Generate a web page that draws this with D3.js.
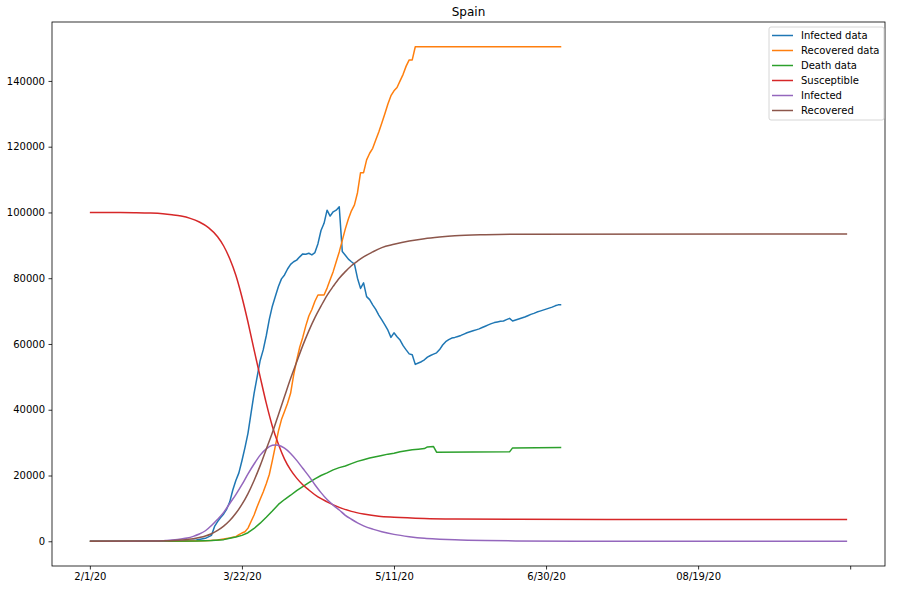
<!DOCTYPE html>
<html>
<head>
<meta charset="utf-8">
<script src="https://cdn.jsdelivr.net/npm/d3@7"></script>
<style>
body { margin: 0; background: #fff; }
text { font-family: "DejaVu Sans", sans-serif; }
</style>
</head>
<body>
<div id="chart"></div>
<script>
// values, [day index, value]
var infectedData = [[0,0],[30,30],[35,400],[38,900],[40,1800],[41,4500],[42,6000],[43,7200],[44,8300],[45,9800],[46,12000],[47,15600],[48,18500],[49,20800],[50,24500],[51,28500],[52,32900],[53,39000],[54,45000],[55,50000],[56,55000],[57,58200],[58,62500],[59,67500],[60,71500],[61,74500],[62,77500],[63,79800],[64,81000],[65,82800],[66,84200],[67,85000],[68,85500],[69,86500],[70,87400],[71,87300],[72,87600],[73,87100],[74,87800],[75,90500],[76,94500],[77,96700],[78,100700],[79,98900],[80,100200],[81,100700],[82,101700],[83,88100],[84,87000],[85,85800],[86,85000],[87,84300],[88,80000],[89,76900],[90,78600],[91,74400],[92,73500],[93,71900],[94,70500],[95,68800],[96,67300],[97,65800],[98,64200],[99,62000],[100,63400],[101,62200],[102,61200],[103,59500],[104,58200],[105,57000],[106,56700],[107,53800],[108,54200],[109,54600],[110,55200],[111,56000],[112,56500],[113,56900],[114,57300],[115,58300],[116,59700],[117,60700],[118,61300],[119,61800],[120,62000],[121,62300],[122,62600],[123,63000],[124,63400],[125,63700],[126,64000],[127,64300],[128,64600],[129,65000],[130,65400],[131,65800],[132,66200],[133,66500],[134,66700],[135,66900],[136,67000],[137,67400],[138,67800],[139,67000],[140,67300],[141,67600],[142,67900],[143,68200],[144,68600],[145,69000],[146,69300],[147,69700],[148,70000],[149,70300],[150,70600],[151,70900],[152,71200],[153,71600],[154,71900],[155,71900]];

var recoveredData = [[0,0],[30,30],[38,150],[42,400],[44,700],[46,1000],[47,1200],[48,1400],[49,2000],[50,2500],[51,2900],[52,4000],[53,6000],[54,8000],[55,10500],[56,12800],[57,15000],[58,17500],[59,20300],[60,24500],[61,29000],[62,33500],[63,37000],[64,39500],[65,42000],[66,45000],[67,50500],[68,55000],[69,59000],[70,62000],[71,65500],[72,68500],[73,70500],[74,73000],[75,74900],[76,74900],[77,74900],[78,77000],[79,79500],[80,82000],[81,85000],[82,88000],[83,91500],[84,95000],[85,98000],[86,100500],[87,102300],[88,106000],[89,112100],[90,112100],[91,116000],[92,118000],[93,119500],[94,122000],[95,124500],[96,127200],[97,130000],[98,133000],[99,135500],[100,137000],[101,138000],[102,140000],[103,142000],[104,144500],[105,146400],[106,146400],[107,150400],[155,150400]];

var deathData = [[0,0],[35,50],[40,200],[44,500],[46,900],[48,1300],[50,1800],[52,2600],[54,3900],[56,5500],[58,7300],[60,9200],[62,11200],[64,12700],[66,14000],[68,15400],[70,16600],[72,17800],[74,19000],[76,20000],[78,20800],[80,21700],[82,22400],[84,22900],[86,23600],[88,24300],[90,24800],[92,25300],[94,25700],[96,26100],[98,26500],[100,26800],[102,27200],[104,27500],[106,27800],[108,28000],[110,28200],[111,28700],[113,28800],[114,27100],[138,27200],[139,28400],[155,28500]];

var susceptibleModel = [[0,100000],[10,99980],[15,99940],[20,99820],[24,99600],[27,99300],[30,98900],[33,98200],[36,97100],[39,95400],[42,92600],[44,89800],[46,85900],[48,80900],[50,74300],[52,66600],[54,58200],[56,50000],[58,42000],[60,35000],[62,29500],[64,25000],[66,21700],[68,19200],[70,17200],[72,15600],[75,13500],[78,12000],[82,10300],[86,9100],[90,8300],[95,7600],[100,7300],[110,6950],[120,6800],[140,6700],[170,6650],[249,6650]];

var infectedModel = [[0,5],[10,20],[15,45],[20,100],[25,250],[28,450],[30,700],[32,1000],[34,1500],[36,2200],[38,3200],[40,4800],[42,6700],[44,8800],[46,11500],[48,14200],[50,17200],[52,20500],[54,23500],[56,26200],[58,28100],[60,29200],[61,29300],[62,29200],[64,28300],[66,26700],[68,24600],[70,22200],[72,19800],[74,17200],[76,14800],[78,12700],[80,11000],[82,9500],[84,7900],[86,6700],[88,5600],[90,4700],[93,3700],[96,2900],[100,2100],[105,1400],[110,900],[115,650],[120,450],[130,220],[140,110],[160,30],[200,5],[249,0]];

var recoveredModel = [[0,0],[20,60],[25,150],[30,400],[34,800],[38,1600],[40,2300],[42,3300],[44,4600],[46,6300],[48,8500],[50,11200],[52,14500],[54,18500],[56,23000],[58,28000],[60,33000],[62,38500],[64,44000],[66,49500],[68,54500],[70,59500],[72,64000],[74,68000],[76,71500],[78,74800],[80,77500],[82,80000],[84,82000],[86,83800],[88,85200],[90,86500],[93,88000],[96,89300],[100,90300],[105,91300],[110,92000],[115,92500],[120,92900],[130,93250],[140,93400],[249,93450]];

var seriesNames = ["Infected data", "Recovered data", "Death data", "Susceptible", "Infected", "Recovered"];
var seriesColors = ["#1f77b4", "#ff7f0e", "#2ca02c", "#d62728", "#9467bd", "#8c564b"];
var tickDays = [0, 50, 100, 150, 200, 250];
var tickLabels = ["2/1/20", "3/22/20", "5/11/20", "6/30/20", "08/19/20", ""];
var yTicks = [0, 20000, 40000, 60000, 80000, 100000, 120000, 140000];

var W = 899, H = 590;
var plotLeft = 52, plotRight = 885, plotTop = 22, plotBottom = 566;

var allSeries = [infectedData, recoveredData, deathData, susceptibleModel, infectedModel, recoveredModel];
var smooth = [false, false, false, true, true, true];

// matplotlib style 5% margins
var xMax = d3.max(allSeries, function(s) { return d3.max(s, function(d) { return d[0]; }); });
var yMax = d3.max(allSeries, function(s) { return d3.max(s, function(d) { return d[1]; }); });
var xPad = xMax * 0.05, yPad = yMax * 0.05;

var x = d3.scaleLinear().domain([-xPad, xMax + xPad]).range([plotLeft, plotRight]);
var y = d3.scaleLinear().domain([-yPad, yMax + yPad]).range([plotBottom, plotTop]);

var svg = d3.select("#chart").append("svg")
    .attr("width", W)
    .attr("height", H);

svg.append("rect").attr("width", W).attr("height", H).attr("fill", "#fff");

var g = svg.append("g");

allSeries.forEach(function(s, i) {
    var line = d3.line()
	.x(function(d) { return x(d[0]); })
	.y(function(d) { return y(d[1]); })
	.curve(smooth[i] ? d3.curveMonotoneX : d3.curveLinear);
    g.append("path")
	.datum(s)
	.attr("fill", "none")
	.attr("stroke", seriesColors[i])
	.attr("stroke-width", 1.5)
	.attr("stroke-linejoin", "round")
	.attr("d", line);
});

// axes
var xAxis = d3.axisBottom(x)
    .tickValues(tickDays)
    .tickFormat(function(d, i) { return tickLabels[i]; })
    .tickSize(3.5)
    .tickPadding(3.5);
var yAxis = d3.axisLeft(y)
    .tickValues(yTicks)
    .tickFormat(d3.format("d"))
    .tickSize(3.5)
    .tickPadding(3.5);

var gx = svg.append("g").attr("transform", "translate(0," + plotBottom + ")").call(xAxis);
var gy = svg.append("g").attr("transform", "translate(" + plotLeft + ",0)").call(yAxis);
[gx, gy].forEach(function(a) {
    a.select(".domain").remove();
    a.selectAll(".tick line").attr("stroke", "#000").attr("stroke-width", 0.8);
    a.selectAll(".tick text").attr("fill", "#000").style("font-size", "10px").style("font-family", "DejaVu Sans");
});

svg.append("rect")
    .attr("x", plotLeft).attr("y", plotTop)
    .attr("width", plotRight - plotLeft).attr("height", plotBottom - plotTop)
    .attr("fill", "none").attr("stroke", "#000").attr("stroke-width", 0.8);

svg.append("text")
    .attr("x", (plotLeft + plotRight) / 2)
    .attr("y", plotTop - 6)
    .attr("text-anchor", "middle")
    .style("font-size", "12px")
    .text("Spain");

// legend
var lg = svg.append("g").attr("transform", "translate(769,27)");
lg.append("rect")
    .attr("width", 115).attr("height", 93).attr("rx", 2)
    .attr("fill", "#fff").attr("fill-opacity", 0.8)
    .attr("stroke", "#ccc").attr("stroke-width", 0.8);
seriesNames.forEach(function(name, i) {
    var ly = 8.5 + i * 15;
    lg.append("line")
	.attr("x1", 3).attr("x2", 24)
	.attr("y1", ly).attr("y2", ly)
	.attr("stroke", seriesColors[i]).attr("stroke-width", 1.5);
    lg.append("text")
	.attr("x", 32).attr("y", ly + 3.5)
	.style("font-size", "10px")
	.text(name);
});
</script>
</body>
</html>
